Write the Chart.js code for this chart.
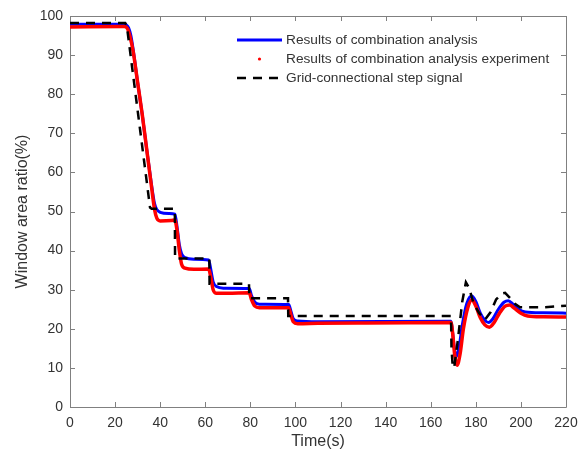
<!DOCTYPE html>
<html><head><meta charset="utf-8">
<script src="https://cdn.jsdelivr.net/npm/chart.js@4/dist/chart.umd.min.js"></script>
<style>html,body{margin:0;padding:0;background:#fff;overflow:hidden}</style>
</head><body>
<canvas id="c" width="586" height="455" style="display:block;width:586px;height:455px"></canvas>
<script>
const xTickValues = [0,20,40,60,80,100,120,140,160,180,200,220];
const yTickValues = [0,10,20,30,40,50,60,70,80,90,100];
const seriesNames = ['Results of combination analysis','Results of combination analysis experiment','Grid-connectional step signal'];
const xTitle = 'Time(s)';
const yTitle = 'Window area ratio(%)';

const blueT = [0,24,25,26,27,28,30,32,34,36,37.5,38.5,40,44,46.5,47.5,48.5,49.5,51,55,61.5,62.5,63.5,65,68,79.5,80.5,82,84,97,98,99,101,110,169,169.5,170.5,171.3,172.5,174,176,178.2,180,182,184,185.7,187.5,190,192.5,194.4,196.5,199,202,210,220];
const blueV = [97.9,97.9,97.7,97,95,91.5,83,75,66,57.5,52,50.5,49.8,49.5,49.3,46,41.5,39.2,38.2,37.8,37.6,35,32,30.8,30.4,30.3,28.5,26.8,26.3,26.2,24.5,22.6,22,21.8,21.9,20,15,12.9,15,21,26.5,28.4,27,24,22.2,21.6,22.5,25,26.8,27.2,26.3,25,24.3,24.1,24.0];

const redT = [0,24,25.5,26.5,28,30,32,34,36,37.5,38.5,40,45,46.5,47.5,48.5,49.5,51,55,61.5,62.5,63.5,65,70,79.5,80.5,82,84,97,98,99,101,110,130,169,169.7,170.7,171.7,173,174.5,176.5,178.3,180,182,184,186,188,190.5,193,195,197,200,203,210,220];
const redV = [97.2,97.3,96.8,95,91,83,75,66,57,50.5,48.3,47.6,47.7,47.8,45,40,36.5,35.5,35.2,35.3,33,30,29.1,29.1,29.2,27.5,25.8,25.4,25.4,23.5,21.8,21.3,21.4,21.5,21.6,19,13,10.7,13.5,20,25.5,27.4,25.8,22.8,21,20.4,21.5,24,25.8,26.1,25.3,24,23.3,23.1,23.0];

const stepT = [0,24.5,25.2,35.5,36.2,46.5,46.6,61.8,61.9,79.4,79.5,96.7,96.8,169,169.2,169.8,170.5,172,174,175.6,177,179,181.5,184,186.5,189,191.5,193,195,197.5,199.6,210,220];
const stepV = [98.2,98.2,97.5,51,50.7,50.7,38,38,31.5,31.5,27.8,27.8,23.3,23.3,15,10,10.5,17,27,31.9,30.5,26.5,24,22.3,24.2,27.5,29,29.2,28,26.3,25.5,25.5,25.9];

const toXY = (t, v) => t.map((x, i) => ({x, y: v[i]}));

const FONT = "'Liberation Sans', Arial, Helvetica, sans-serif";
const TEXT = '#333333';
const AXIS = '#808080';

const framePlugin = {
  id: 'frame',
  beforeDatasetsDraw(chart) {
    const {ctx, chartArea: a, scales: {x, y}} = chart;
    ctx.save();
    ctx.strokeStyle = AXIS;
    ctx.lineWidth = 1;
    ctx.beginPath();
    ctx.rect(Math.round(a.left) + 0.5, Math.round(a.top) + 0.5, Math.round(a.right - a.left), Math.round(a.bottom - a.top));
    const L = 5;
    xTickValues.forEach(v => {
      const px = Math.round(x.getPixelForValue(v)) + 0.5;
      ctx.moveTo(px, a.bottom); ctx.lineTo(px, a.bottom - L);
      ctx.moveTo(px, a.top); ctx.lineTo(px, a.top + L);
    });
    yTickValues.forEach(v => {
      const py = Math.round(y.getPixelForValue(v)) + 0.5;
      ctx.moveTo(a.left, py); ctx.lineTo(a.left + L, py);
      ctx.moveTo(a.right, py); ctx.lineTo(a.right - L, py);
    });
    ctx.stroke();
    ctx.restore();
  },
  afterDraw(chart) {
    const {ctx} = chart;
    ctx.save();
    ctx.font = '13.7px ' + FONT;
    ctx.fillStyle = TEXT;
    ctx.textBaseline = 'middle';
    const x0 = 237, x1 = 282, tx = 286;
    const rows = [40, 59, 78];
    const ds = chart.data.datasets;
    ctx.strokeStyle = ds[0].borderColor; ctx.lineWidth = ds[0].borderWidth;
    ctx.beginPath(); ctx.moveTo(x0, rows[0]); ctx.lineTo(x1, rows[0]); ctx.stroke();
    ctx.fillStyle = ds[1].borderColor;
    ctx.beginPath(); ctx.arc((x0 + x1) / 2, rows[1], 1.6, 0, Math.PI * 2); ctx.fill();
    ctx.strokeStyle = ds[2].borderColor; ctx.lineWidth = ds[2].borderWidth;
    ctx.setLineDash(ds[2].borderDash);
    ctx.beginPath(); ctx.moveTo(x0, rows[2]); ctx.lineTo(x1, rows[2]); ctx.stroke();
    ctx.setLineDash([]);
    ctx.fillStyle = TEXT;
    seriesNames.forEach((n, i) => ctx.fillText(n, tx, rows[i]));
    ctx.restore();
  }
};

new Chart(document.getElementById('c'), {
  type: 'line',
  data: {
    datasets: [
      {label: seriesNames[0], data: toXY(blueT, blueV), borderColor: '#0000ff', borderWidth: 3, pointRadius: 0, cubicInterpolationMode: 'monotone', order: 2},
      {label: seriesNames[1], data: toXY(redT, redV), borderColor: '#ff0000', backgroundColor: '#ff0000', borderWidth: 3.5, pointRadius: 0, cubicInterpolationMode: 'monotone', order: 1},
      {label: seriesNames[2], data: toXY(stepT, stepV), borderColor: '#000000', borderWidth: 2.5, borderDash: [9, 7], pointRadius: 0, tension: 0, order: 0}
    ]
  },
  options: {
    responsive: false,
    animation: false,
    devicePixelRatio: 1,
    layout: {padding: {top: 16, right: 20, left: 0, bottom: 0}},
    plugins: {legend: {display: false}, tooltip: {enabled: false}},
    scales: {
      x: {
        type: 'linear', min: 0, max: 220,
        afterBuildTicks: s => { s.ticks = xTickValues.map(v => ({value: v})); },
        afterFit: s => { s.height = 48; },
        grid: {display: false, drawTicks: false},
        border: {display: false},
        ticks: {font: {size: 14, family: FONT}, color: TEXT, padding: 8, maxRotation: 0, autoSkip: false},
        title: {display: true, text: xTitle, font: {size: 16, family: FONT}, color: TEXT, padding: {top: 0, bottom: 4}}
      },
      y: {
        type: 'linear', min: 0, max: 100,
        afterBuildTicks: s => { s.ticks = yTickValues.map(v => ({value: v})); },
        afterFit: s => { s.width = 70; },
        grid: {display: false, drawTicks: false},
        border: {display: false},
        ticks: {font: {size: 14, family: FONT}, color: TEXT, padding: 7, autoSkip: false},
        title: {display: true, text: yTitle, font: {size: 16, family: FONT}, color: TEXT, padding: {top: 13, bottom: 0}}
      }
    }
  },
  plugins: [framePlugin]
});
</script>
</body></html>
